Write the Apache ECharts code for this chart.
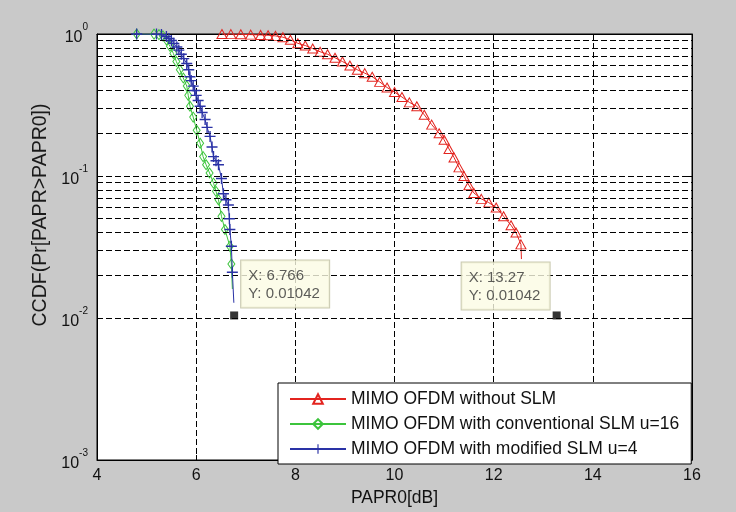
<!DOCTYPE html>
<html><head><meta charset="utf-8">
<script src="https://cdn.jsdelivr.net/npm/echarts@6/dist/echarts.min.js"></script>
<style>html,body{margin:0;padding:0;background:#c9c9c9}#c{width:736px;height:512px}</style>
</head><body><div id="c"></div>
<script>
// ---- data ----
const seriesNames = ['MIMO OFDM without SLM', 'MIMO OFDM with conventional SLM u=16', 'MIMO OFDM with modified SLM u=4'];
const xTicks = [4, 6, 8, 10, 12, 14, 16];
const yTicks = [0.001, 0.01, 0.1, 1];
// [PAPR0 dB, CCDF]
const noSlm = [[6.52,1.0],[6.7,0.998],[6.9,0.995],[7.1,0.99],[7.3,0.985],[7.45,0.98],[7.6,0.97],[7.75,0.95],[7.9,0.91],[8.05,0.86],[8.2,0.83],[8.35,0.79],[8.5,0.75],[8.65,0.72],[8.8,0.68],[8.95,0.64],[9.1,0.6],[9.25,0.56],[9.4,0.53],[9.55,0.5],[9.7,0.46],[9.85,0.42],[10.0,0.39],[10.15,0.36],[10.3,0.33],[10.45,0.31],[10.6,0.27],[10.75,0.23],[10.9,0.2],[11.0,0.18],[11.1,0.155],[11.2,0.135],[11.3,0.115],[11.4,0.1],[11.5,0.086],[11.6,0.076],[11.75,0.069],[11.9,0.065],[12.05,0.06],[12.2,0.052],[12.35,0.045],[12.45,0.04],[12.55,0.033],[12.56,0.026]];
const convSlm = [[4.8,1.0],[5.15,0.998],[5.25,0.99],[5.33,0.97],[5.4,0.91],[5.47,0.82],[5.54,0.73],[5.6,0.64],[5.67,0.56],[5.74,0.49],[5.81,0.43],[5.84,0.37],[5.875,0.31],[5.94,0.26],[6.01,0.21],[6.08,0.17],[6.14,0.137],[6.2,0.12],[6.27,0.105],[6.35,0.089],[6.4,0.078],[6.45,0.068],[6.51,0.052],[6.58,0.042],[6.68,0.032],[6.71,0.024],[6.73,0.016]];
const modSlm = [[4.8,1.0],[5.2,0.998],[5.3,0.99],[5.4,0.96],[5.45,0.93],[5.5,0.9],[5.55,0.86],[5.61,0.81],[5.65,0.77],[5.7,0.72],[5.75,0.67],[5.81,0.62],[5.85,0.56],[5.875,0.5],[5.9,0.47],[5.94,0.43],[5.97,0.4],[6.0,0.37],[6.04,0.34],[6.08,0.31],[6.12,0.28],[6.18,0.25],[6.22,0.22],[6.28,0.19],[6.32,0.16],[6.35,0.137],[6.4,0.128],[6.45,0.12],[6.51,0.096],[6.55,0.075],[6.6,0.068],[6.65,0.0625],[6.67,0.05],[6.68,0.042],[6.71,0.032],[6.73,0.021],[6.76,0.0128]];
const tipBlue = [6.766, 0.01042];
const tipRed = [13.27, 0.01042];
const minorGridValues = [];
[-3, -2, -1].forEach(function (e) { for (let k = 2; k <= 9; k++) minorGridValues.push(+(k * Math.pow(10, e)).toPrecision(3)); });

// ---- chart ----
const FONT = 'Liberation Sans, Arial, sans-serif';
const RED = '#e3241f', GREEN = '#3cc43c', BLUE = '#2a32a6';
function items(arr) {
  return arr.map(function (p, i) { return i === arr.length - 1 ? { value: p, symbol: 'none' } : { value: p }; });
}
const dash = [6, 3];
const tipLabel = {
  show: true, align: 'left', verticalAlign: 'bottom', width: 73,
  fontSize: 15, lineHeight: 18, color: '#333', fontFamily: FONT,
  backgroundColor: '#fbfbe3', borderColor: '#bdbd9d', borderWidth: 1, padding: [6, 8, 5, 7]
};
const chart = echarts.init(document.getElementById('c'), null, { renderer: 'canvas' });
chart.setOption({
  animation: false,
  backgroundColor: '#c9c9c9',
  textStyle: { fontFamily: FONT },
  grid: { left: 97, right: 44, top: 34, bottom: 52, show: true, backgroundColor: '#fff', borderColor: '#000', borderWidth: 1 },
  legend: {
    data: seriesNames, orient: 'vertical', left: 278, top: 383,
    itemWidth: 56, itemHeight: 12, itemGap: 7,
    padding: [7, 12, 6, 11],
    backgroundColor: '#fff', borderColor: '#000', borderWidth: 1, borderRadius: 0,
    textStyle: { fontSize: 17.5, lineHeight: 16, color: '#111', fontFamily: FONT },
    selectedMode: false
  },
  xAxis: [{
    type: 'value', min: xTicks[0], max: xTicks[xTicks.length - 1], interval: 2,
    name: 'PAPR0[dB]', nameLocation: 'middle', nameGap: 21,
    nameTextStyle: { fontSize: 17.5, color: '#111', fontFamily: FONT },
    axisLine: { lineStyle: { color: '#000', width: 1 } },
    axisTick: { inside: true, length: 5, lineStyle: { color: '#000' } },
    axisLabel: { fontSize: 16, color: '#111', margin: 8, fontFamily: FONT },
    splitLine: { show: true, lineStyle: { color: '#000', type: dash, width: 1 } }
  }, {
    type: 'value', position: 'top', min: xTicks[0], max: xTicks[xTicks.length - 1], interval: 2,
    axisLine: { lineStyle: { color: '#000', width: 1 } },
    axisTick: { inside: true, length: 5, lineStyle: { color: '#000' } },
    axisLabel: { show: false }, splitLine: { show: false }
  }],
  yAxis: [{
    type: 'log', logBase: 10, min: yTicks[0], max: yTicks[yTicks.length - 1],
    name: 'CCDF(Pr[PAPR>PAPR0])', nameLocation: 'middle', nameGap: 46,
    nameTextStyle: { fontSize: 19.5, color: '#1a1a1a', fontFamily: FONT, padding: [0, 0, 0, 64] },
    axisLine: { lineStyle: { color: '#000', width: 1 } },
    axisTick: { inside: true, length: 5, lineStyle: { color: '#000' } },
    axisLabel: {
      margin: 9, color: '#111', fontFamily: FONT,
      formatter: function (v) { return '{b|10}{e|' + Math.round(Math.log10(v)) + '}'; },
      rich: {
        b: { fontSize: 16, color: '#111', fontFamily: FONT, padding: [8, 0, 0, 0] },
        e: { fontSize: 10, color: '#111', fontFamily: FONT, padding: [0, 0, 14, 0] }
      }
    },
    splitLine: { show: true, lineStyle: { color: '#000', type: dash, width: 1 } }
  }, {
    type: 'log', logBase: 10, position: 'right', min: yTicks[0], max: yTicks[yTicks.length - 1],
    axisLine: { lineStyle: { color: '#000', width: 1 } },
    axisTick: { inside: true, length: 5, lineStyle: { color: '#000' } },
    axisLabel: { show: false }, splitLine: { show: false }
  }],
  series: [
    {
      name: seriesNames[0], type: 'line', data: items(noSlm),
      symbol: 'triangle', symbolSize: [10, 9],
      itemStyle: { color: 'rgba(0,0,0,0)', borderColor: RED, borderWidth: 1 },
      lineStyle: { color: RED, width: 1 },
      markLine: {
        silent: true, symbol: ['none', 'none'], label: { show: false },
        lineStyle: { color: '#000', type: dash, width: 1 },
        emphasis: { disabled: true },
        data: minorGridValues.map(function (v) { return { yAxis: v }; })
      },
      z: 3
    },
    {
      name: seriesNames[1], type: 'line', data: items(convSlm),
      symbol: 'diamond', symbolSize: [7, 10],
      itemStyle: { color: 'rgba(0,0,0,0)', borderColor: GREEN, borderWidth: 1 },
      lineStyle: { color: GREEN, width: 1 },
      z: 4
    },
    {
      name: seriesNames[2], type: 'line', data: items(modSlm),
      symbol: 'path://M4.4,0H5.6V4.4H10V5.6H5.6V10H4.4V5.6H0V4.4H4.4Z', symbolSize: 11,
      itemStyle: { color: BLUE },
      lineStyle: { color: BLUE, width: 1 },
      z: 5
    },
    {
      type: 'scatter', data: [tipBlue], symbol: 'rect', symbolSize: 8,
      itemStyle: { color: '#000' }, z: 6,
      label: Object.assign({}, tipLabel, {
        position: [11, -4],
        formatter: function () { return 'X: ' + tipBlue[0] + '\nY: ' + tipBlue[1]; }
      })
    },
    {
      type: 'scatter', data: [tipRed], symbol: 'rect', symbolSize: 8,
      itemStyle: { color: '#000' }, z: 6,
      label: Object.assign({}, tipLabel, {
        position: [-91, -2],
        formatter: function () { return 'X: ' + tipRed[0] + '\nY: ' + tipRed[1]; }
      })
    }
  ]
});
</script></body></html>
